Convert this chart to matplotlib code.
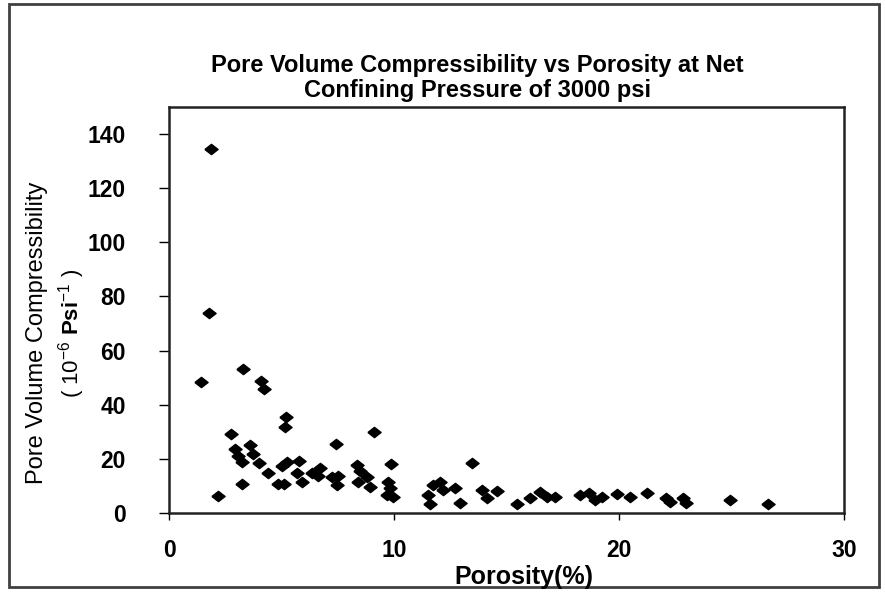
import matplotlib
matplotlib.use("Agg")
import matplotlib.pyplot as plt
from matplotlib.patches import Rectangle

# porosity (%) and pore volume compressibility (1e-6 / psi)
porosity = [1.85, 1.79, 1.44, 3.30, 4.09, 4.24, 5.19, 5.16, 7.42, 2.74,
            2.19, 3.26, 9.11, 2.93, 3.60, 3.08, 3.23, 3.72, 4.01, 4.39,
            4.86, 5.11, 5.01, 5.26, 5.78, 5.68, 5.90, 6.34, 6.71, 6.64,
            7.23, 7.52, 7.45, 8.34, 8.49, 8.41, 8.79, 8.93, 9.86, 9.75,
            9.82, 9.68, 9.97, 12.04, 11.75, 12.19, 12.71, 11.52, 11.60, 12.93,
            13.45, 13.90, 14.56, 14.12, 15.45, 16.04, 16.49, 16.79, 17.16, 18.27,
            18.68, 18.93, 19.23, 19.90, 20.49, 21.23, 22.09, 22.27, 22.86, 23.00,
            24.93, 26.64]
compress = [134.5, 74.0, 48.4, 53.1, 48.8, 45.7, 35.3, 31.7, 25.4, 29.1,
            6.4, 10.6, 29.8, 23.5, 25.1, 21.0, 19.0, 21.8, 18.6, 14.9,
            10.7, 10.6, 17.5, 19.0, 19.2, 14.7, 11.6, 14.9, 16.5, 13.7,
            13.4, 13.7, 10.3, 17.7, 15.6, 11.6, 13.4, 9.7, 18.2, 11.6,
            9.1, 6.6, 6.0, 11.6, 10.3, 8.5, 9.1, 6.6, 3.3, 3.8,
            18.4, 8.5, 8.2, 5.4, 3.3, 5.4, 7.9, 6.0, 6.0, 6.6,
            7.3, 4.8, 6.0, 6.9, 5.8, 7.3, 5.4, 4.2, 5.4, 3.8,
            4.8, 3.2]

xticks = [0, 10, 20, 30]
yticks = [0, 20, 40, 60, 80, 100, 120, 140]

plt.rcParams['font.family'] = ['Liberation Sans', 'DejaVu Sans']
plt.rcParams['mathtext.fontset'] = 'custom'
plt.rcParams['mathtext.rm'] = 'Liberation Sans'
plt.rcParams['mathtext.bf'] = 'Liberation Sans:bold'

W, H = 885, 592
fig = plt.figure(figsize=(W / 100, H / 100), dpi=100)
ax = fig.add_axes([169 / W, 1 - 513 / H, (844 - 169) / W, (513 - 107) / H])

diamond = [(-1, 0), (0, 0.78), (1, 0), (0, -0.78), (-1, 0)]
ax.plot(porosity, compress, linestyle='none', marker=diamond,
        markersize=9.5, color='black')

ax.set_xlim(0, 30)
ax.set_ylim(0, 150)
ax.set_xticks(xticks)
ax.set_yticks(yticks)
ax.set_xticklabels([str(t) for t in xticks], weight='bold', size=16.5)
ax.set_yticklabels([str(t) for t in yticks], weight='bold', size=16.5)
ax.tick_params(axis='x', direction='out', length=5, width=1, pad=14)
ax.tick_params(axis='y', direction='out', length=7, width=1, pad=24)
for s in ax.spines.values():
    s.set_linewidth(1.8)
    s.set_color('#222222')

fig.text(477 / W, 1 - 78 / H,
         'Pore Volume Compressibility vs Porosity at Net\nConfining Pressure of 3000 psi',
         ha='center', va='center', fontsize=17, weight='bold', linespacing=1.08)

fig.text(524 / W, 1 - 577 / H, 'Porosity(%)', ha='center', va='center',
         fontsize=18, weight='bold')

fig.text(37 / W, 1 - 333 / H, 'Pore Volume Compressibility', rotation=90,
         ha='center', va='center', fontsize=17)
fig.text(72 / W, 1 - 333 / H, r'( 10$^{-6}$ $\mathbf{Psi}$$^{-1}$ )', rotation=90,
         ha='center', va='center', fontsize=16)

fig.patches.append(Rectangle((9 / W, 5 / H), (879 - 9) / W, (588 - 5) / H,
                             transform=fig.transFigure, fill=False,
                             edgecolor='#404040', linewidth=2))

fig.savefig('out.png', dpi=100)
